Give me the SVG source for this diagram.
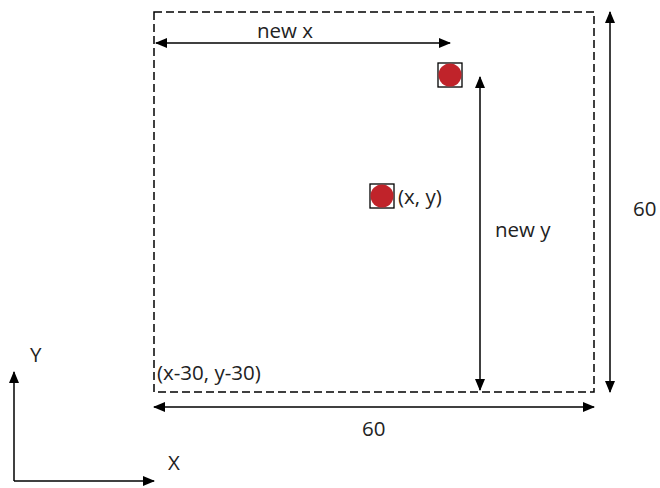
<svg xmlns="http://www.w3.org/2000/svg" width="660" height="488" viewBox="0 0 660 488">
<style>
.ln{stroke:#000;stroke-width:1.5;fill:none}
.t{font-family:"Open Sans","DejaVu Sans",sans-serif;font-size:20.5px;fill:#222}
.dot{fill:#c0232a}
.box{fill:none;stroke:#000;stroke-width:1.3}
</style>
<defs>
<marker id="ah2" viewBox="0 0 12 10" refX="11" refY="5" markerWidth="12" markerHeight="10" markerUnits="userSpaceOnUse" orient="auto-start-reverse">
<path d="M0,0 L12,5 L0,10 z" fill="#000"/>
</marker>
</defs>
<g id="frame">
<rect x="154" y="12" width="440" height="380" fill="none" stroke="#000" stroke-width="1.5" stroke-dasharray="8,4"/>
<text class="t" x="157" y="380">(x-30, y-30)</text>
</g>
<g id="point-new">
<rect class="box" x="438" y="63" width="24" height="24"/>
<circle class="dot" cx="450" cy="75" r="11.5"/>
</g>
<g id="point-xy">
<rect class="box" x="370" y="184" width="24" height="24"/>
<circle class="dot" cx="382" cy="196" r="11.5"/>
<text class="t" x="398" y="204">(x, y)</text>
</g>
<g id="connectors">
<line class="ln" x1="156" y1="43" x2="450" y2="43" marker-start="url(#ah2)" marker-end="url(#ah2)"/>
<line class="ln" x1="480" y1="77" x2="480" y2="390" marker-start="url(#ah2)" marker-end="url(#ah2)"/>
<line class="ln" x1="610" y1="12" x2="610" y2="392" marker-start="url(#ah2)" marker-end="url(#ah2)"/>
<line class="ln" x1="154" y1="407" x2="594" y2="407" marker-start="url(#ah2)" marker-end="url(#ah2)"/>
<line class="ln" x1="14" y1="372" x2="14" y2="481" marker-start="url(#ah2)"/>
<line class="ln" x1="14" y1="481" x2="154" y2="481" marker-end="url(#ah2)"/>
</g>
<g id="labels">
<text class="t" x="257" y="38">new x</text>
<text class="t" x="495" y="237">new y</text>
<text class="t" x="633" y="216">60</text>
<text class="t" x="362" y="436">60</text>
<text class="t" x="30" y="362">Y</text>
<text class="t" x="168" y="470">X</text>
</g>
</svg>
